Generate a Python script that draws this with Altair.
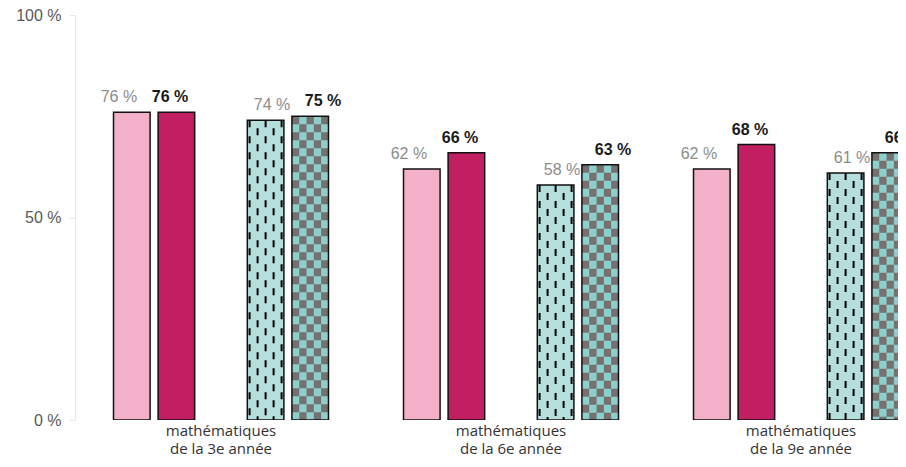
import altair as alt
import pandas as pd

categories = ["mathématiques\nde la 3e année", "mathématiques\nde la 6e année", "mathématiques\nde la 9e année"]
series = ["A", "B", "gap", "C", "D"]
values_a = [76, 62, 62]   # rose clair
values_b = [76, 66, 68]   # rose foncé
values_c = [74, 58, 61]   # turquoise pointillé
values_d = [75, 63, 66]   # damier

rows = []
for i, c in enumerate(categories):
    rows.append({"cat": c, "series": "A", "value": values_a[i]})
    rows.append({"cat": c, "series": "B", "value": values_b[i]})
    rows.append({"cat": c, "series": "C", "value": values_c[i]})
    rows.append({"cat": c, "series": "D", "value": values_d[i]})
df = pd.DataFrame(rows)

x_enc = alt.X("cat:N", sort=categories,
              scale=alt.Scale(range=[1, 871], paddingInner=0, paddingOuter=0),
              axis=alt.Axis(title=None, domain=False, ticks=False, labelAngle=0,
                            labelExpr="split(datum.label, '\\n')",
                            labelFont="Open Sans", labelFontSize=15, labelColor="#333333",
                            labelLineHeight=18, labelPadding=3))

PAD_IN, PAD_OUT = 0.18, 0.841
OUTER_PX = 75.0  # total outer padding of the offset band, used to shift pattern columns


def xo(shift=0.0):
    return alt.XOffset("series:N", sort=series,
                       scale=alt.Scale(domain=series, paddingInner=PAD_IN, paddingOuter=PAD_OUT,
                                       align=0.5 + shift / OUTER_PX))


y_enc = alt.Y("value:Q", scale=alt.Scale(domain=[0, 100]),
              axis=alt.Axis(title=None, values=[0, 50, 100], grid=False,
                            labelExpr="datum.value + ' %'",
                            domainColor="#f6e1e8", tickColor="#f6e1e8", tickSize=6,
                            labelFont="Liberation Sans", labelFontSize=16,
                            labelColor="#595959", labelPadding=8))

base = alt.Chart(df)

bars = base.mark_bar(clip=True).encode(
    x=x_enc, xOffset=xo(), y=y_enc,
    color=alt.Color("series:N", legend=None,
                    scale=alt.Scale(domain=["A", "B", "C", "D"],
                                    range=["#f2b1c8", "#c21f63", "#b4dfdc", "#8dcfca"])),
)

layers = [bars]

dash_shifts = [-16, -8, 0, 8, 16]
for k, s in enumerate(dash_shifts):
    layers.append(
        base.transform_filter(alt.datum.series == "C").mark_rule(
            clip=True, color="#000000", strokeWidth=2,
            strokeDash=[7, 9], strokeDashOffset=(0 if k % 2 == 0 else 8)
        ).encode(x=x_enc, xOffset=xo(s), y="value:Q", y2=alt.datum(0))
    )

check_shifts = [-14.6, -7.3, 0, 7.3, 14.6]
for k, s in enumerate(check_shifts):
    layers.append(
        base.transform_filter(alt.datum.series == "D").mark_rule(
            clip=True, color="#767171", strokeWidth=7.3,
            strokeDash=[8, 8], strokeDashOffset=(0 if k % 2 == 0 else 8)
        ).encode(x=x_enc, xOffset=xo(s), y="value:Q", y2=alt.datum(0))
    )

outline = base.mark_bar(clip=True, fillOpacity=0, stroke="#111111", strokeWidth=1.5).encode(
    x=x_enc, xOffset=xo(), y="value:Q")
layers.append(outline)

light_txt = base.transform_filter(
    (alt.datum.series == "A") | (alt.datum.series == "C")
).transform_calculate(lbl="datum.value + ' %'").mark_text(
    clip=True, dy=-10, baseline="alphabetic", font="Liberation Sans",
    fontSize=16, color="#8c8c8c").encode(x=x_enc, xOffset=xo(), y="value:Q", text="lbl:N")

dark_txt = base.transform_filter(
    (alt.datum.series == "B") | (alt.datum.series == "D")
).transform_calculate(lbl="datum.value + ' %'").mark_text(
    clip=True, dy=-10, baseline="alphabetic", font="Liberation Sans",
    fontSize=16, fontWeight="bold", color="#1a1a1a").encode(x=x_enc, xOffset=xo(), y="value:Q", text="lbl:N")

layers += [light_txt, dark_txt]

chart = alt.layer(*layers).resolve_scale(xOffset="independent").properties(
    width=823, height=405,
    autosize=alt.AutoSizeParams(type="none"),
    padding={"left": 67, "top": 7, "right": 0, "bottom": 39},
).configure_view(stroke=None)

chart.save("out.html", embed_options={"renderer": "svg", "actions": False})
